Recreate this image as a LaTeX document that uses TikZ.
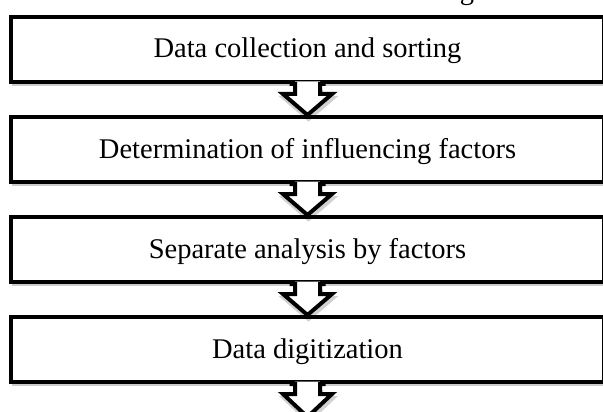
\documentclass[tikz,border=0pt]{standalone}
\usepackage{fontspec}
\setmainfont{Liberation Serif}
\usetikzlibrary{calc,shadows}
\begin{document}
\begin{tikzpicture}[x=1pt,y=-1pt,
  stage/.style={draw=black, line width=4pt, fill=white,
    minimum width=593pt, minimum height=65pt, inner sep=0pt,
    text height=23pt, text depth=6pt,
    font=\fontsize{28.5}{32}\selectfont,
    drop shadow={shadow xshift=1pt, shadow yshift=-4pt, opacity=0.2, fill=black}},
  flowline/.style={draw=black, line width=4pt, line join=miter, miter limit=10},
  flowshade/.style={draw=black, line width=4pt, line join=miter, opacity=0.18}
]
\useasboundingbox (0,0) rectangle (603,412);
\clip (0,0) rectangle (603,412);

% tail of the heading above the chart
\node[anchor=base, inner sep=0pt, font=\fontsize{28.5}{32}\selectfont] (heading) at (467,0) {g};

% process stages
\node[stage] (b1) at (307.5,49.5)  {Data collection and sorting};
\node[stage] (b2) at (307.5,149.5) {Determination of influencing factors};
\node[stage] (b3) at (307.5,249.5) {Separate analysis by factors};
\node[stage] (b4) at (307.5,349.5) {Data digitization};
\coordinate (tail) at (307.5,417);

% hollow block arrows between stages
\foreach \s/\t in {b1/b2.north, b2/b3.north, b3/b4.north, b4/tail} {
  \path (\s.south) coordinate (top) (\t) coordinate (tip);
  \path ($(top)+(1,4)$) coordinate (stop) ($(tip)+(1,4)$) coordinate (stip);
  \draw[flowshade] ($(stop)+(-12.5,2)$) -- ($(stop)+(-12.5,10)$) -- ($(stop)+(-24.5,10)$)
    -- (stip) -- ($(stop)+(24.5,10)$) -- ($(stop)+(12.5,10)$) -- ($(stop)+(12.5,2)$);
  \fill[white] ($(top)+(-12.5,-2.5)$) -- ($(top)+(-12.5,10)$) -- ($(top)+(-24.5,10)$)
    -- (tip) -- ($(top)+(24.5,10)$) -- ($(top)+(12.5,10)$) -- ($(top)+(12.5,-2.5)$) -- cycle;
  \draw[flowline] ($(top)+(-18,0)$) -- ($(top)+(-12.5,0)$) -- ($(top)+(-12.5,10)$)
    -- ($(top)+(-24.5,10)$) -- (tip) -- ($(top)+(24.5,10)$) -- ($(top)+(12.5,10)$)
    -- ($(top)+(12.5,0)$) -- ($(top)+(18,0)$);
}
\end{tikzpicture}
\end{document}
